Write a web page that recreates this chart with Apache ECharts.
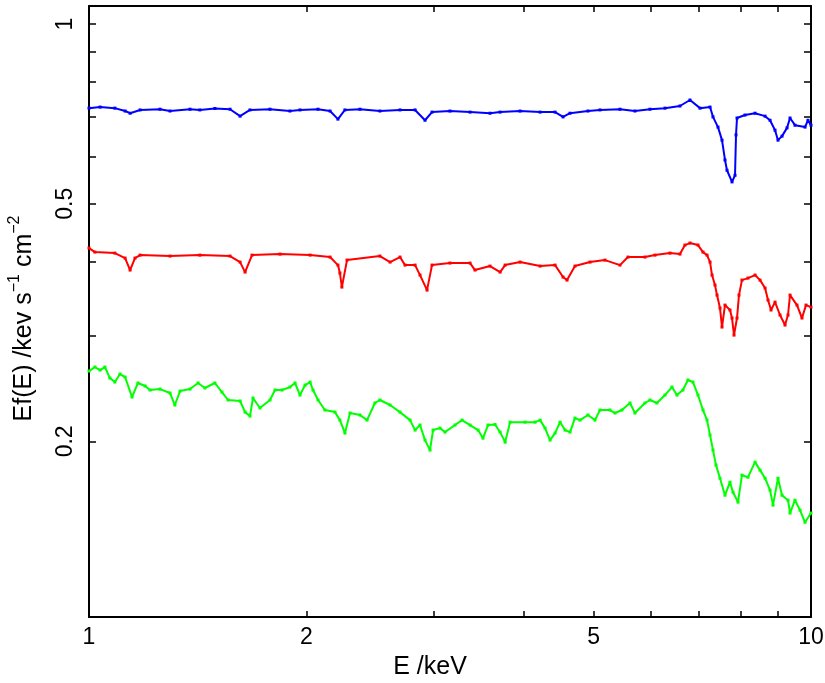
<!DOCTYPE html>
<html>
<head>
<meta charset="utf-8">
<script src="https://cdn.jsdelivr.net/npm/echarts@6/dist/echarts.min.js"></script>
<style>html,body{margin:0;padding:0;background:#fff}#c{width:825px;height:683px}</style>
</head>
<body>
<div id="c"></div>
<script>
// Energies (keV) and Ef(E) values
const blueE = [1.000,1.036,1.086,1.122,1.140,1.177,1.254,1.295,1.380,1.424,1.494,1.568,1.619,1.671,1.781,1.898,1.960,2.076,2.157,2.212,2.262,2.373,2.529,2.696,2.829,2.920,2.986,3.162,3.371,3.593,3.710,3.954,4.215,4.421,4.535,4.637,4.910,5.102,5.438,5.704,5.984,6.277,6.584,6.798,7.019,7.247,7.316,7.433,7.529,7.601,7.650,7.773,7.848,7.873,7.898,8.102,8.365,8.637,8.775,8.916,9.001,9.117,9.264,9.353,9.502,9.811,9.904,10.0];
const blueF = [0.723,0.726,0.723,0.715,0.709,0.718,0.720,0.715,0.720,0.718,0.722,0.720,0.701,0.718,0.720,0.715,0.718,0.720,0.715,0.693,0.718,0.720,0.715,0.718,0.718,0.690,0.712,0.715,0.712,0.709,0.712,0.715,0.712,0.712,0.699,0.709,0.715,0.718,0.720,0.715,0.720,0.723,0.729,0.746,0.723,0.726,0.699,0.672,0.639,0.592,0.569,0.544,0.558,0.652,0.696,0.704,0.709,0.701,0.690,0.664,0.639,0.649,0.670,0.696,0.677,0.672,0.690,0.677];

const redE = [1.000,1.019,1.086,1.122,1.140,1.158,1.177,1.295,1.424,1.568,1.619,1.645,1.682,1.839,2.024,2.157,2.212,2.226,2.240,2.277,2.529,2.612,2.696,2.740,2.829,2.874,2.939,2.986,3.162,3.371,3.425,3.593,3.710,3.770,3.954,4.215,4.421,4.535,4.593,4.711,4.942,5.184,5.438,5.578,5.889,6.080,6.377,6.584,6.690,6.798,6.974,7.086,7.178,7.247,7.293,7.363,7.410,7.481,7.529,7.601,7.723,7.773,7.823,7.898,7.948,8.024,8.180,8.365,8.500,8.637,8.719,8.803,8.916,9.059,9.205,9.293,9.353,9.563,9.716,9.843,10.0];
const redF = [0.4215,0.4150,0.4134,0.4055,0.3872,0.4055,0.4102,0.4087,0.4102,0.4087,0.3993,0.3842,0.4102,0.4118,0.4102,0.4071,0.3947,0.3827,0.3626,0.4024,0.4087,0.3993,0.4071,0.3947,0.3947,0.3798,0.3584,0.3947,0.3978,0.3978,0.3872,0.3932,0.3842,0.3947,0.3993,0.3932,0.3947,0.3769,0.3725,0.3932,0.3993,0.4024,0.3947,0.4071,0.4071,0.4102,0.4134,0.4118,0.4264,0.4297,0.4264,0.4150,0.4102,0.3993,0.3798,0.3654,0.3516,0.3344,0.3108,0.3383,0.3319,0.3218,0.3013,0.3218,0.3516,0.3725,0.3754,0.3798,0.3725,0.3612,0.3449,0.3319,0.3422,0.3256,0.3132,0.3256,0.3516,0.3383,0.3218,0.3383,0.3357];

const greenE = [1.000,1.019,1.036,1.052,1.069,1.086,1.104,1.122,1.147,1.169,1.196,1.215,1.254,1.295,1.315,1.337,1.380,1.416,1.447,1.494,1.528,1.558,1.619,1.645,1.671,1.687,1.725,1.781,1.810,1.851,1.898,1.929,1.960,1.992,2.024,2.043,2.076,2.122,2.191,2.226,2.262,2.299,2.373,2.427,2.489,2.529,2.612,2.696,2.784,2.829,2.874,2.920,2.967,2.996,3.063,3.112,3.213,3.286,3.371,3.458,3.513,3.570,3.651,3.710,3.770,3.830,4.018,4.148,4.215,4.282,4.351,4.421,4.492,4.564,4.637,4.711,4.787,4.910,5.021,5.102,5.267,5.352,5.472,5.614,5.704,5.889,5.984,6.118,6.277,6.418,6.521,6.647,6.754,6.863,6.974,7.086,7.178,7.247,7.316,7.386,7.481,7.601,7.723,7.798,7.923,8.024,8.180,8.365,8.500,8.637,8.775,8.859,9.001,9.117,9.293,9.353,9.502,9.656,9.811,10.0];
const greenF = [0.2623,0.2664,0.2633,0.2664,0.2553,0.2514,0.2593,0.2563,0.2373,0.2505,0.2476,0.2438,0.2447,0.2410,0.2301,0.2428,0.2447,0.2505,0.2457,0.2505,0.2419,0.2346,0.2337,0.2239,0.2205,0.2364,0.2275,0.2346,0.2438,0.2438,0.2466,0.2505,0.2391,0.2485,0.2514,0.2438,0.2346,0.2257,0.2239,0.2171,0.2065,0.2231,0.2214,0.2171,0.2319,0.2346,0.2301,0.2239,0.2171,0.2089,0.2130,0.2010,0.1934,0.2089,0.2105,0.2073,0.2130,0.2171,0.2130,0.2089,0.2025,0.2130,0.2134,0.2073,0.1994,0.2154,0.2154,0.2154,0.2171,0.2105,0.2010,0.2065,0.2154,0.2089,0.2073,0.2188,0.2171,0.2214,0.2171,0.2257,0.2257,0.2231,0.2257,0.2319,0.2231,0.2319,0.2346,0.2319,0.2391,0.2466,0.2391,0.2438,0.2534,0.2514,0.2391,0.2257,0.2171,0.2049,0.1934,0.1825,0.1735,0.1625,0.1709,0.1644,0.1582,0.1756,0.1742,0.1846,0.1790,0.1735,0.1657,0.1564,0.1735,0.1625,0.1594,0.1517,0.1594,0.1534,0.1464,0.1517];

const xTicks = [1,2,3,4,5,6,7,8,9,10];
const xLabels = [1,2,5,10];
const yTicks = [0.2,0.3,0.4,0.5,0.6,0.7,0.8,0.9,1];
const yLabels = [0.2,0.5,1];
const xName = 'E /keV';
const yName = '{n|Ef(E) /kev s}{s|\u22121}{n| cm}{s|\u22122}';

const FONT = 'Liberation Sans, Arial, sans-serif';
const xMin = 1, xMax = 10, yMin = 0.1016, yMax = 1.072;

function xAx(pos, show) {
  return {
    type: 'log', logBase: 10, min: xMin, max: xMax, position: pos,
    name: show ? xName : '', nameLocation: 'middle', nameGap: 38,
    nameTextStyle: {color: '#000', fontSize: 25, fontFamily: FONT, padding: [0, 40, 0, 0]},
    axisLine: {show: true, lineStyle: {color: '#000', width: 2}},
    axisTick: {show: true, inside: true, length: 6, lineStyle: {color: '#000', width: 1.5}, customValues: xTicks},
    axisLabel: {show: show, color: '#000', fontSize: 23, fontFamily: FONT, margin: 9, customValues: xLabels, formatter: v => String(v)},
    splitLine: {show: false}, minorTick: {show: false}
  };
}
function yAx(pos, show) {
  return {
    type: 'log', logBase: 10, min: yMin, max: yMax, position: pos,
    name: show ? yName : '', nameLocation: 'middle', nameGap: 52, nameRotate: 90,
    nameTextStyle: {
      color: '#000', fontFamily: FONT, padding: [0, 14, 0, 0],
      rich: {
        n: {fontSize: 25, fontFamily: FONT, color: '#000', lineHeight: 30, verticalAlign: 'bottom'},
        s: {fontSize: 16, fontFamily: FONT, color: '#000', lineHeight: 30, verticalAlign: 'top', padding: [0, 0, 10, 0]}
      }
    },
    axisLine: {show: true, lineStyle: {color: '#000', width: 2}},
    axisTick: {show: true, inside: true, length: 7, lineStyle: {color: '#000', width: 1.5}, customValues: yTicks},
    axisLabel: {show: show, color: '#000', fontSize: 23, fontFamily: FONT, margin: 12, rotate: 90, customValues: yLabels, formatter: v => String(v)},
    splitLine: {show: false}, minorTick: {show: false}
  };
}
function series(E, F, color) {
  return {
    type: 'line', xAxisIndex: 0, yAxisIndex: 0,
    data: E.map((e, i) => [e, F[i]]),
    symbol: 'rect', symbolSize: 3, showSymbol: true,
    itemStyle: {color: color}, lineStyle: {color: color, width: 2},
    animation: false, silent: true
  };
}
const chart = echarts.init(document.getElementById('c'), null, {renderer: 'canvas'});
chart.setOption({
  backgroundColor: '#fff',
  animation: false,
  grid: {left: 89, right: 14, top: 6, bottom: 66, containLabel: false, outerBoundsMode: 'none'},
  xAxis: [xAx('bottom', true), xAx('top', false)],
  yAxis: [yAx('left', true), yAx('right', false)],
  series: [series(blueE, blueF, '#0000ff'), series(redE, redF, '#ff0000'), series(greenE, greenF, '#00ff00')]
});
</script>
</body>
</html>
